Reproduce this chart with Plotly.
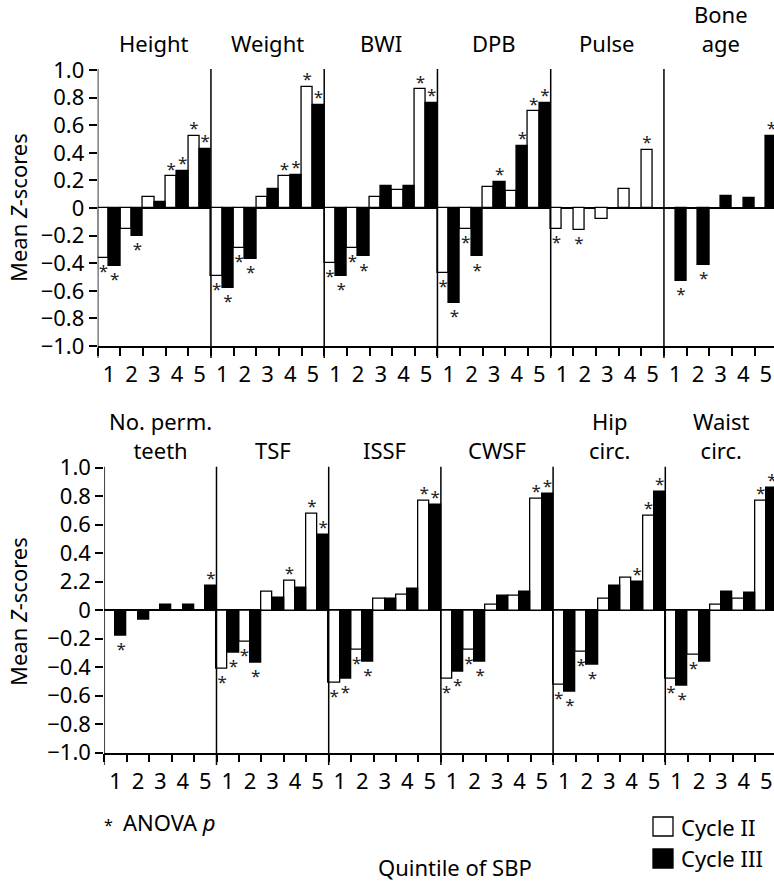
import plotly.graph_objects as go

# ---- data -------------------------------------------------------------
quintiles = ["1", "2", "3", "4", "5"]

top_measures = ["Height", "Weight", "BWI", "DPB", "Pulse", "Bone<br>age"]
bottom_measures = ["No. perm.<br>teeth", "TSF", "ISSF", "CWSF", "Hip<br>circ.", "Waist<br>circ."]

# mean Z-scores by SBP quintile, Cycle II
top_cycle2 = [
    [-0.36, -0.15, 0.08, 0.23, 0.52],   # Height
    [-0.49, -0.29, 0.08, 0.23, 0.88],   # Weight
    [-0.40, -0.29, 0.08, 0.13, 0.86],   # BWI
    [-0.47, -0.15, 0.15, 0.12, 0.70],   # DPB
    [-0.15, -0.16, -0.08, 0.14, 0.42],  # Pulse
    [None, None, None, None, None],     # Bone age
]
# mean Z-scores by SBP quintile, Cycle III
top_cycle3 = [
    [-0.42, -0.20, 0.04, 0.27, 0.43],
    [-0.58, -0.37, 0.14, 0.24, 0.75],
    [-0.49, -0.35, 0.16, 0.16, 0.76],
    [-0.69, -0.35, 0.19, 0.45, 0.76],
    [None, None, None, None, None],
    [-0.53, -0.41, 0.09, 0.07, 0.52],
]
bottom_cycle2 = [
    [None, None, None, None, None],     # No. perm. teeth
    [-0.41, -0.22, 0.13, 0.21, 0.68],   # TSF
    [-0.51, -0.28, 0.08, 0.11, 0.77],   # ISSF
    [-0.48, -0.28, 0.04, 0.10, 0.78],   # CWSF
    [-0.52, -0.29, 0.08, 0.23, 0.66],   # Hip circ.
    [-0.48, -0.31, 0.04, 0.08, 0.77],   # Waist circ.
]
bottom_cycle3 = [
    [-0.18, -0.07, 0.04, 0.04, 0.17],
    [-0.30, -0.37, 0.09, 0.16, 0.53],
    [-0.48, -0.36, 0.08, 0.15, 0.74],
    [-0.43, -0.36, 0.10, 0.13, 0.82],
    [-0.57, -0.38, 0.17, 0.20, 0.83],
    [-0.53, -0.36, 0.13, 0.12, 0.86],
]

# ANOVA significance flags (1 = starred)
top_sig2 = [[1, 0, 0, 1, 1], [1, 1, 0, 1, 1], [1, 1, 0, 0, 1],
            [1, 1, 0, 0, 1], [1, 1, 0, 0, 1], [0, 0, 0, 0, 0]]
top_sig3 = [[1, 1, 0, 1, 1], [1, 1, 0, 1, 1], [1, 1, 0, 0, 1],
            [1, 1, 1, 1, 1], [0, 0, 0, 0, 0], [1, 1, 0, 0, 1]]
bottom_sig2 = [[0, 0, 0, 0, 0], [1, 1, 0, 1, 1], [1, 1, 0, 0, 1],
               [1, 1, 0, 0, 1], [1, 1, 0, 0, 1], [1, 1, 0, 0, 1]]
bottom_sig3 = [[1, 0, 0, 0, 1], [1, 1, 0, 0, 1], [1, 1, 0, 0, 1],
               [1, 1, 0, 0, 1], [1, 1, 0, 1, 1], [1, 0, 0, 0, 1]]

y_ticks = [1.0, 0.8, 0.6, 0.4, 0.2, 0, -0.2, -0.4, -0.6, -0.8, -1.0]
top_ytext = ["1.0", "0.8", "0.6", "0.4", "0.2", "0", "−0.2", "−0.4", "−0.6", "−0.8", "−1.0"]
bottom_ytext = ["1.0", "0.8", "0.6", "0.4", "2.2", "0", "−0.2", "−0.4", "−0.6", "−0.8", "−1.0"]

# ---- layout geometry (pixels) -----------------------------------------
W, H = 774, 883
FONT = "Noto Sans"


def fx(p):
    return p / W


def fy(p):
    return 1 - p / H


rows = [
    # axis left, plot top (1.0), plot bottom (-1.0), group width, long tick end,
    # title bottom, y-title centre
    dict(xl=97.7, yt=70.0, yb=346.0, gw=22.65, tick_end=358.0, title_y=60.0, ytitle=208.0),
    dict(xl=104.3, yt=467.7, yb=752.7, gw=22.44, tick_end=765.0, title_y=467.0, ytitle=612.0),
]

fig = go.Figure()


def flat(lst):
    return [v for sub in lst for v in sub]


datasets = [
    (top_measures, top_cycle2, top_cycle3, top_sig2, top_sig3, top_ytext),
    (bottom_measures, bottom_cycle2, bottom_cycle3, bottom_sig2, bottom_sig3, bottom_ytext),
]

shapes = []
annotations = []

for r, (measures, c2, c3, s2, s3, ytext) in enumerate(datasets):
    geo = rows[r]
    xa = "x" if r == 0 else "x2"
    ya = "y" if r == 0 else "y2"
    n = len(measures) * len(quintiles)
    xs = list(range(n))
    v2 = flat(c2)
    v3 = flat(c3)

    fig.add_trace(go.Bar(x=xs, y=v2, xaxis=xa, yaxis=ya, name="Cycle II",
                         marker=dict(color="white", line=dict(color="black", width=1.3)),
                         showlegend=False, hoverinfo="skip"))
    fig.add_trace(go.Bar(x=xs, y=v3, xaxis=xa, yaxis=ya, name="Cycle III",
                         marker=dict(color="black", line=dict(color="black", width=1.3)),
                         showlegend=False, hoverinfo="skip"))

    # asterisks just beyond the end of each starred bar
    px_per_unit = (geo["yb"] - geo["yt"]) / 2.0
    up = 6.0 / px_per_unit
    down = 15.0 / px_per_unit
    sx, sy = [], []
    for vals, flags, off in ((v2, flat(s2), -0.25), (v3, flat(s3), 0.25)):
        for i, (v, f) in enumerate(zip(vals, flags)):
            if f and v is not None:
                sx.append(i + off)
                sy.append(v + up if v >= 0 else v - down)
    fig.add_trace(go.Scatter(x=sx, y=sy, xaxis=xa, yaxis=ya, mode="text",
                             text=["*"] * len(sx), textposition="middle center",
                             textfont=dict(family=FONT, size=17, color="#222"),
                             cliponaxis=False, showlegend=False, hoverinfo="skip"))

    x_end = -0.5 + (W - geo["xl"]) / geo["gw"]
    axis_x = dict(domain=[fx(geo["xl"]), 1], range=[-0.5, x_end], anchor=ya,
                  automargin=False,
                  tickmode="array", tickvals=xs, ticktext=quintiles * len(measures),
                  ticks="outside", ticklen=8, tickcolor="rgba(0,0,0,0)",
                  tickfont=dict(family=FONT, size=22, color="black"),
                  minor=dict(tickmode="linear", tick0=-0.5, dtick=1, ticks="outside",
                             ticklen=8, tickwidth=1.5, tickcolor="black"),
                  showline=True, linecolor="black", linewidth=1.5,
                  showgrid=False, zeroline=False, fixedrange=True)
    axis_y = dict(domain=[fy(geo["yb"]), fy(geo["yt"])], range=[-1, 1], anchor=xa,
                  automargin=False,
                  tickmode="array", tickvals=y_ticks, ticktext=ytext,
                  ticks="outside", ticklen=8, tickwidth=1.5, tickcolor="black",
                  tickfont=dict(family=FONT, size=22, color="black"),
                  showline=False, showgrid=False,
                  zeroline=True, zerolinecolor="black", zerolinewidth=2, fixedrange=True)
    if r == 0:
        fig.update_layout(xaxis=axis_x, yaxis=axis_y)
    else:
        fig.update_layout(xaxis2=axis_x, yaxis2=axis_y)

    # y-axis line and panel separators, extending below the x axis
    for p in range(len(measures)):
        xb = p * len(quintiles) - 0.5
        shapes.append(dict(type="line", xref=xa, yref="paper", x0=xb, x1=xb,
                           y0=fy(geo["tick_end"]), y1=fy(geo["yt"] - 1),
                           line=dict(color="black", width=1.5)))
        # panel titles
        annotations.append(dict(text=measures[p], xref=xa, yref="paper",
                                x=p * len(quintiles) + 2, y=fy(geo["title_y"]),
                                xanchor="center", yanchor="bottom", showarrow=False,
                                font=dict(family=FONT, size=22, color="black")))

    annotations.append(dict(text="Mean <i>Z</i>-scores", textangle=-90, xref="paper",
                            yref="paper", x=fx(18), y=fy(geo["ytitle"]),
                            xanchor="center", yanchor="middle", showarrow=False,
                            font=dict(family=FONT, size=22, color="black")))

# footnote, axis caption and legend
annotations += [
    dict(text="*", xref="paper", yref="paper", x=fx(108), y=fy(825),
         xanchor="center", yanchor="middle", showarrow=False,
         font=dict(family=FONT, size=16, color="black")),
    dict(text="ANOVA <i>p</i>", xref="paper", yref="paper", x=fx(121), y=fy(822),
         xanchor="left", yanchor="middle", showarrow=False,
         font=dict(family=FONT, size=22, color="black")),
    dict(text="Quintile of SBP", xref="paper", yref="paper", x=fx(455), y=fy(867),
         xanchor="center", yanchor="middle", showarrow=False,
         font=dict(family=FONT, size=22, color="black")),
    dict(text="Cycle II", xref="paper", yref="paper", x=fx(679), y=fy(827),
         xanchor="left", yanchor="middle", showarrow=False,
         font=dict(family=FONT, size=22, color="black")),
    dict(text="Cycle III", xref="paper", yref="paper", x=fx(679), y=fy(858),
         xanchor="left", yanchor="middle", showarrow=False,
         font=dict(family=FONT, size=22, color="black")),
]
shapes += [
    dict(type="rect", xref="paper", yref="paper", x0=fx(653), x1=fx(673),
         y0=fy(836), y1=fy(817), fillcolor="white", line=dict(color="black", width=1.3)),
    dict(type="rect", xref="paper", yref="paper", x0=fx(653), x1=fx(673),
         y0=fy(868), y1=fy(849), fillcolor="black", line=dict(color="black", width=1.3)),
]

fig.update_layout(
    width=W, height=H, margin=dict(l=0, r=0, t=0, b=0, autoexpand=False),
    paper_bgcolor="white", plot_bgcolor="white",
    barmode="group", bargap=0, bargroupgap=0,
    shapes=shapes, annotations=annotations,
    font=dict(family=FONT, color="black"),
    showlegend=False,
)

fig.write_html("out.html", config={"displayModeBar": False})
